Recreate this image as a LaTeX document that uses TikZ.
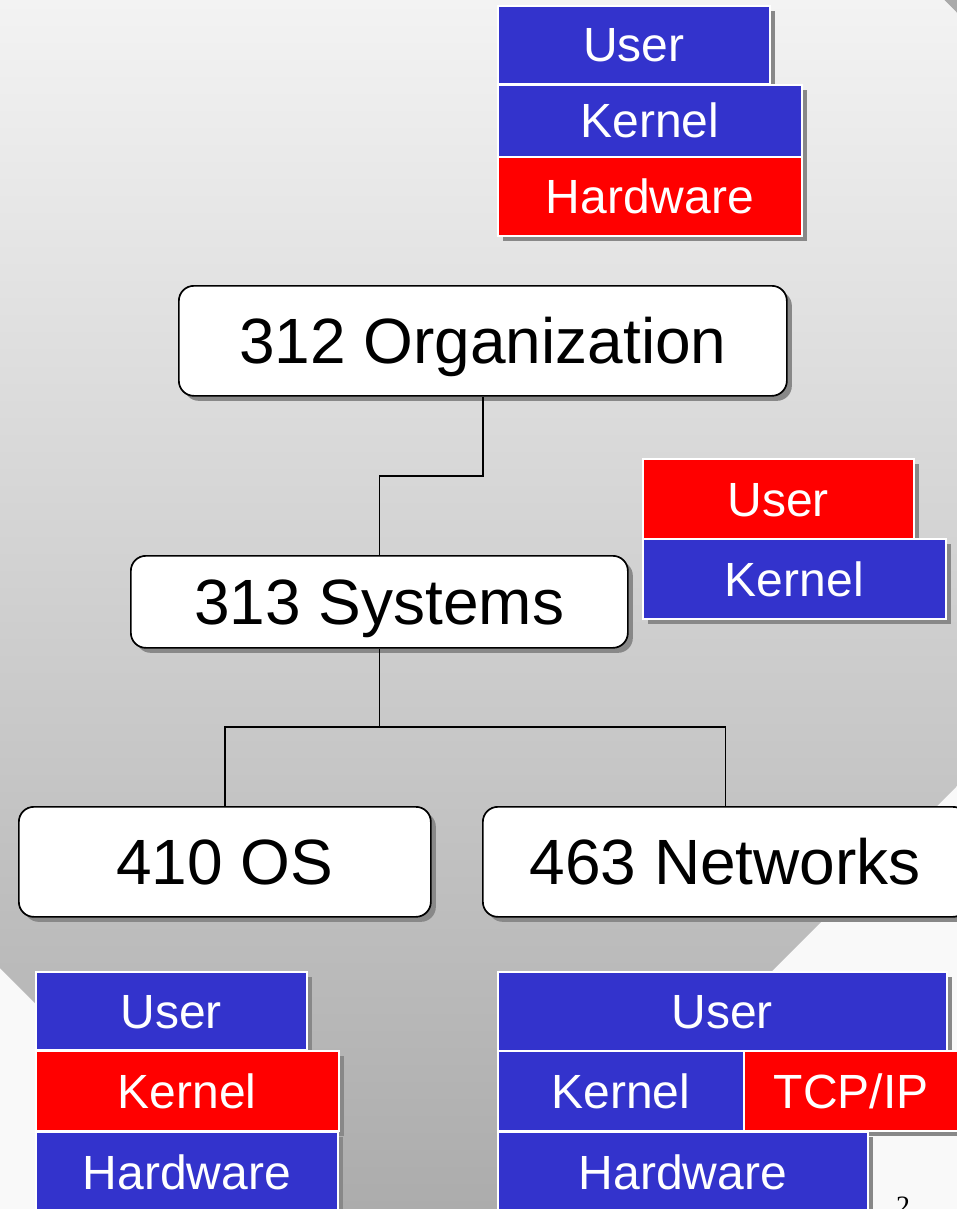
\documentclass[tikz,border=0pt]{standalone}
\usepackage{fontspec}
\setmainfont{Liberation Sans}
\newfontfamily\pagenumfont{Liberation Serif}
\usetikzlibrary{shadows}

\definecolor{layerblue}{RGB}{51,51,204}
\definecolor{layerred}{RGB}{255,0,0}
\definecolor{shadowgray}{RGB}{136,136,136}
\definecolor{bgtop}{RGB}{243,243,243}
\definecolor{bgbottom}{RGB}{172,172,172}
\definecolor{bgout}{RGB}{249,249,249}
\definecolor{cornergray}{RGB}{170,170,170}

\tikzset{
  boxshadow/.style={drop shadow={shadow xshift=5pt, shadow yshift=-5pt, fill=shadowgray, opacity=1}},
  layer/.style={rectangle, draw=white, line width=1.6pt, inner sep=0pt,
    anchor=north west, text=white, font=\fontsize{48}{48}\selectfont,
    text height=34.4pt, text depth=0pt, boxshadow},
  course/.style={rectangle, rounded corners=15pt, draw=black, line width=1.7pt,
    fill=white, inner sep=0pt, anchor=north west,
    font=\fontsize{64}{64}\selectfont, text height=45.8pt, text depth=0pt, boxshadow},
  link/.style={draw=black, line width=1.6pt},
}

\begin{document}
\begin{tikzpicture}[x=1pt, y=-1pt]
\useasboundingbox (0,0) rectangle (957,1209);
\clip (0,0) rectangle (957,1209);

% slide background: light base, dark corner, shaded diagonal panel
\fill[bgout] (0,0) rectangle (957,1209);
\fill[cornergray] (944,0) -- (957,0) -- (957,13) -- cycle;
\begin{scope}
  \clip (0,0) -- (944,0) -- (957,13) -- (957,786) -- (387.5,1355.5) -- (0,968) -- cycle;
  \shade[top color=bgtop, bottom color=bgbottom] (0,0) rectangle (957,1209);
\end{scope}

% course boxes
\node[course, minimum width=608pt, minimum height=110pt] (org) at (178,285) {312 Organization};
\node[course, minimum width=497pt, minimum height=92pt]  (sys) at (130,555) {313 Systems};
\node[course, minimum width=412pt, minimum height=110pt] (os)  at (18,806)  {410 OS};
\node[course, minimum width=485pt, minimum height=110pt] (net) at (482,806) {463 Networks};

% prerequisite tree
\draw[link] (org.south) -- ++(0,79) -| (sys.north);
\draw[link] (sys.south) -- ++(0,78) coordinate (split) -| (os.north);
\draw[link] (split) -| (net.north);

% layer stack: organization
\node[layer, fill=layerblue, minimum width=272pt, minimum height=78pt] (tUser)   at (497,5)   {User};
\node[layer, fill=layerblue, minimum width=304pt, minimum height=72pt] (tKernel) at (497,84)  {Kernel};
\node[layer, fill=layerred,  minimum width=304pt, minimum height=79pt] (tHard)   at (497,156) {Hardware};

% layer stack: systems
\node[layer, fill=layerred,  minimum width=271pt, minimum height=80pt] (rUser)   at (642,458) {User};
\node[layer, fill=layerblue, minimum width=303pt, minimum height=80pt] (rKernel) at (642,538) {Kernel};

% layer stack: operating systems
\node[layer, fill=layerblue, minimum width=271pt, minimum height=78pt] (lUser)   at (35,971)  {User};
\node[layer, fill=layerred,  minimum width=303pt, minimum height=80pt] (lKernel) at (35,1050) {Kernel};
\node[layer, fill=layerblue, minimum width=302pt, minimum height=81pt] (lHard)   at (35,1131) {Hardware};

% layer stack: networks
\node[layer, fill=layerblue, minimum width=449pt, minimum height=79pt] (bUser)   at (497,971)  {User};
\node[layer, fill=layerblue, minimum width=246pt, minimum height=80pt] (bKernel) at (497,1050) {Kernel};
\node[layer, fill=layerred,  minimum width=215pt, minimum height=80pt] (bTcp)    at (743,1050) {TCP/IP};
\node[layer, fill=layerblue, minimum width=370pt, minimum height=81pt] (bHard)   at (497,1131) {Hardware};

% slide number
\node[font=\pagenumfont\fontsize{28}{28}\selectfont, inner sep=0pt, anchor=north] (pagenum) at (903,1197) {2};
\end{tikzpicture}
\end{document}
